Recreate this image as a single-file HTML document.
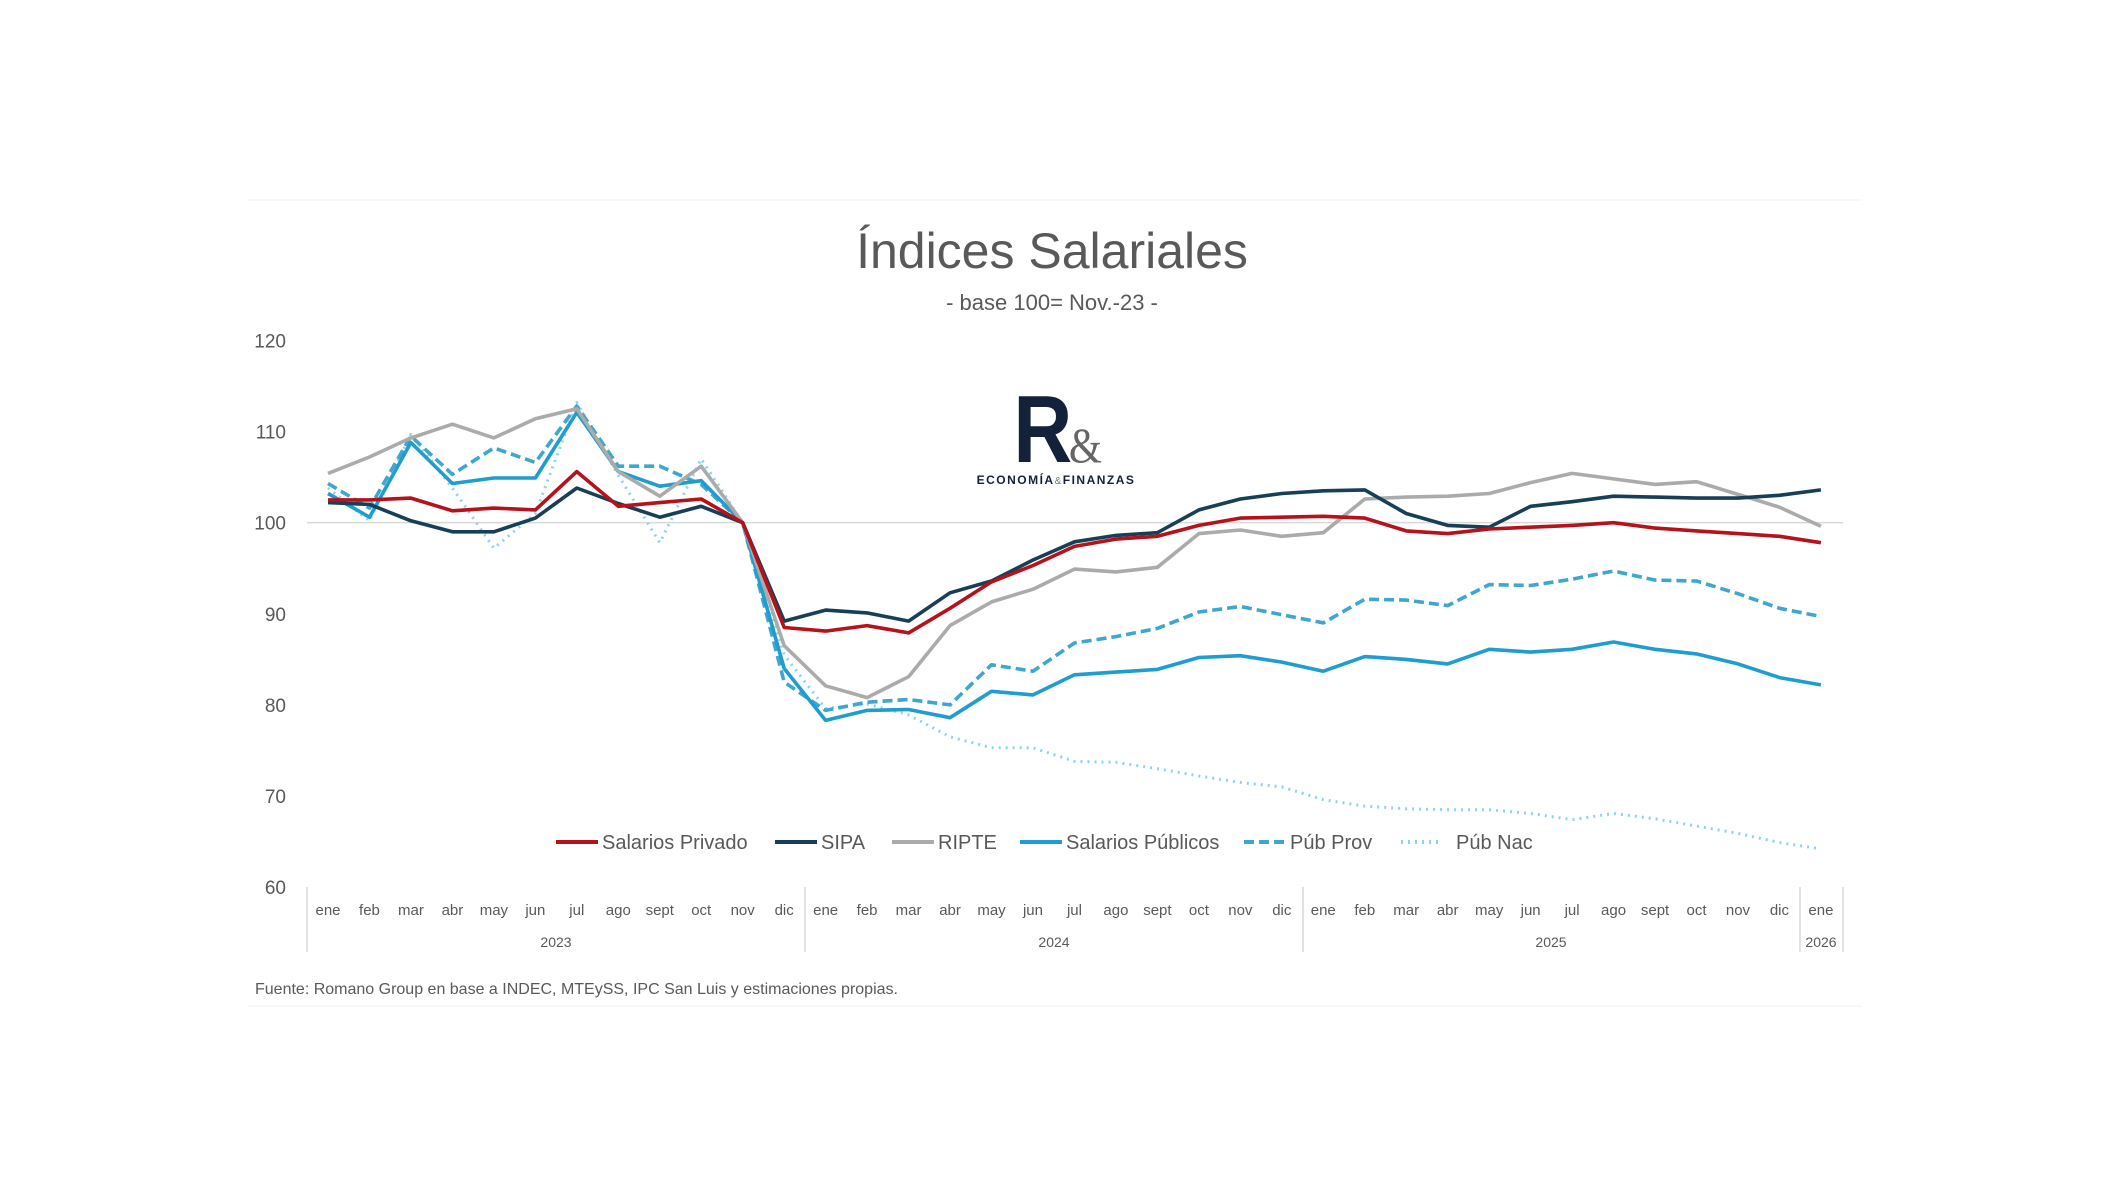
<!DOCTYPE html>
<html><head><meta charset="utf-8"><style>
html,body{margin:0;padding:0;background:#fff;}
body{width:2101px;height:1183px;overflow:hidden;font-family:"Liberation Sans",sans-serif;}
</style></head><body>
<svg id="c" width="2101" height="1183" xmlns="http://www.w3.org/2000/svg" font-family="Liberation Sans, sans-serif">
<line x1="248" y1="200" x2="1862" y2="200" stroke="#f0f0f0" stroke-width="1"/>
<line x1="248" y1="1006" x2="1862" y2="1006" stroke="#f0f0f0" stroke-width="1"/>
<text x="1052" y="268" text-anchor="middle" font-size="50" fill="#595959">Índices Salariales</text>
<text x="1052" y="310" text-anchor="middle" font-size="22" fill="#595959">- base 100= Nov.-23 -</text>
<text x="1056" y="462" text-anchor="middle" font-size="96" font-weight="bold" fill="#13213a" letter-spacing="-4" transform="translate(1056,0) scale(0.85,1) translate(-1056,0)">R<tspan font-size="50" font-weight="normal" fill="#666" font-family="Liberation Serif, serif">&amp;</tspan></text>
<text x="1056" y="484" text-anchor="middle" font-size="12" font-weight="bold" fill="#13213a" letter-spacing="1.5">ECONOMÍA<tspan font-weight="normal" fill="#777" font-size="10">&amp;</tspan>FINANZAS</text>
<text x="255" y="994" font-size="16" fill="#595959">Fuente: Romano Group en base a INDEC, MTEySS, IPC San Luis y estimaciones propias.</text>
<g id="g"></g>
</svg>
<script>
const g=document.getElementById('g');
const X0=328,DX=41.47,Y120=340.4,DY=9.113;
const yv=v=>Y120+(120-v)*DY;
let s='';
[120,110,100,90,80,70,60].forEach(v=>{s+=`<text x="286" y="${yv(v)+7}" text-anchor="end" font-size="19" fill="#595959">${v}</text>`;});
s+=`<line x1="307" y1="${yv(100)}" x2="1843" y2="${yv(100)}" stroke="#d9d9d9" stroke-width="1.5"/>`;
const m=['ene','feb','mar','abr','may','jun','jul','ago','sept','oct','nov','dic'];
for(let i=0;i<37;i++){s+=`<text x="${X0+i*DX}" y="915" text-anchor="middle" font-size="15" fill="#595959">${m[i%12]}</text>`;}
[307,805,1303,1800,1843].forEach(x=>{s+=`<line x1="${x}" y1="887" x2="${x}" y2="952" stroke="#d9d9d9" stroke-width="1.5"/>`;});
[[556,'2023'],[1054,'2024'],[1551,'2025'],[1821,'2026']].forEach(a=>{s+=`<text x="${a[0]}" y="947" text-anchor="middle" font-size="14" fill="#595959">${a[1]}</text>`;});
const D={
rp:[102.5,102.5,102.7,101.3,101.6,101.4,105.6,101.8,102.2,102.6,100,88.5,88.1,88.7,87.9,90.6,93.5,95.3,97.4,98.2,98.5,99.7,100.5,100.6,100.7,100.5,99.1,98.8,99.3,99.5,99.7,100,99.4,99.1,98.8,98.5,97.8],
si:[102.2,102,100.2,99,99,100.5,103.8,102.1,100.6,101.8,100,89.2,90.4,90.1,89.2,92.3,93.6,95.9,97.9,98.6,98.9,101.4,102.6,103.2,103.5,103.6,101,99.7,99.5,101.8,102.3,102.9,102.8,102.7,102.7,103,103.6],
ri:[105.4,107.2,109.3,110.8,109.3,111.4,112.5,105.6,102.9,106.2,100,86.5,82.1,80.8,83.1,88.7,91.3,92.7,94.9,94.6,95.1,98.8,99.2,98.5,98.9,102.6,102.8,102.9,103.2,104.4,105.4,104.8,104.2,104.5,103.1,101.7,99.6],
sp:[103.2,100.6,108.8,104.3,104.9,104.9,112.1,105.6,104,104.6,100,84,78.3,79.4,79.5,78.6,81.5,81.1,83.3,83.6,83.9,85.2,85.4,84.7,83.7,85.3,85,84.5,86.1,85.8,86.1,86.9,86.1,85.6,84.5,83,82.2],
pp:[104.3,101.6,109.5,105.3,108.2,106.6,112.8,106.2,106.2,104.2,100,82.5,79.4,80.3,80.6,80,84.4,83.7,86.8,87.5,88.4,90.2,90.8,89.9,89,91.6,91.5,90.9,93.2,93.1,93.8,94.7,93.7,93.6,92.2,90.6,89.7],
pn:[103.8,100.2,109.7,103.8,97.2,101,113.2,105.2,97.8,107,100,85.5,79.6,80.1,78.9,76.5,75.3,75.3,73.8,73.7,73,72.2,71.5,71,69.6,68.9,68.6,68.5,68.5,68.1,67.4,68.1,67.5,66.7,65.9,64.9,64.2]};
const st={pn:['#8fd3ea','2 5'],pp:['#3ea6cf','10 5'],sp:['#1f9dcf',''],ri:['#ababab',''],si:['#173f55',''],rp:['#b5121b','']};
['pn','pp','sp','ri','si','rp'].forEach(k=>{
 const p=D[k].map((v,i)=>(X0+i*DX).toFixed(1)+','+yv(v).toFixed(1)).join(' ');
 s+=`<polyline points="${p}" fill="none" stroke="${st[k][0]}" stroke-width="${k=='pn'?3:3.6}" stroke-dasharray="${st[k][1]}" stroke-linejoin="round"/>`;
});
const L=[[556,'rp','Salarios Privado'],[775,'si','SIPA'],[892,'ri','RIPTE'],[1020,'sp','Salarios Públicos'],[1244,'pp','Púb Prov'],[1401,'pn','Púb Nac']];
L.forEach(a=>{const y=842;s+=`<line x1="${a[0]}" y1="${y}" x2="${a[0]+42}" y2="${y}" stroke="${st[a[1]][0]}" stroke-width="4" stroke-dasharray="${st[a[1]][1]}"/>`;
 s+=`<text x="${a[0]+(a[1]=='pn'?55:46)}" y="${y+7}" font-size="20" fill="#595959">${a[2]}</text>`;});
g.innerHTML=s;
</script>
</body></html>
